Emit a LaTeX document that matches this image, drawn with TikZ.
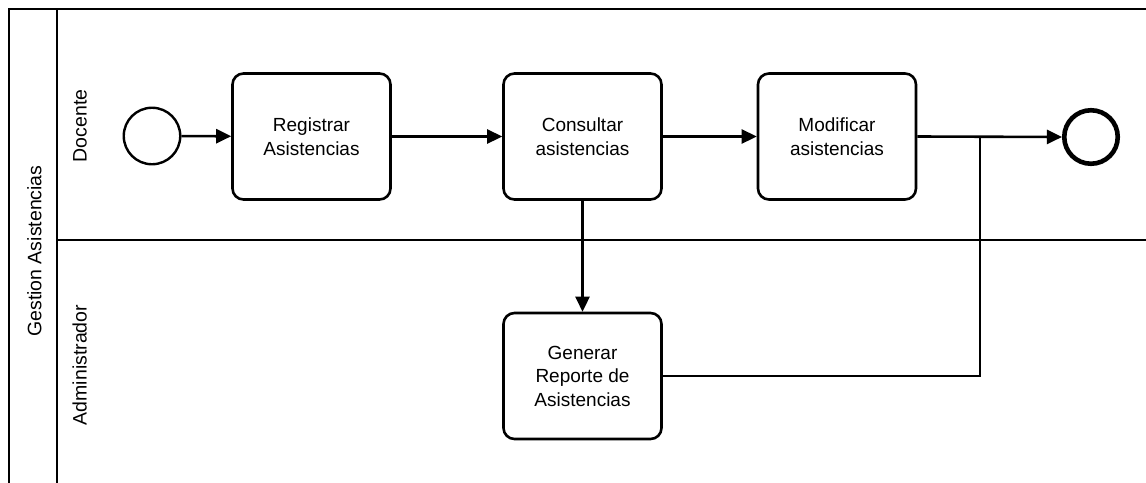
\documentclass[tikz,border=0pt]{standalone}
\usepackage{fontspec}
\setmainfont{Liberation Sans}
\usetikzlibrary{arrows.meta}
\begin{document}
\begin{tikzpicture}[x=1pt,y=-1pt,
  task/.style={draw,line width=2.6pt,rounded corners=11pt,minimum width=158pt,minimum height=126pt,align=center,font=\fontsize{19}{23.5}\selectfont,inner sep=0pt},
  startev/.style={draw,circle,line width=2.4pt,minimum size=56.5pt,inner sep=0pt},
  endev/.style={draw,circle,line width=4.6pt,minimum size=53.5pt,inner sep=0pt},
  flow/.style={line width=2.6pt,-{Triangle[length=15pt,width=14pt]}},
  plain/.style={line width=2.6pt},
  pool/.style={line width=2.6pt},
  lanelabel/.style={rotate=90,anchor=base,font=\fontsize{19.5}{22}\selectfont,inner sep=0pt}]
\useasboundingbox (0,0) rectangle (1146,482);
\begin{scope}
\clip (0,0) rectangle (1146,482);
\draw[pool] (1160,9) -- (9,9) -- (9,500);
\draw[pool] (57,9) -- (57,500);
\draw[pool] (57,240) -- (1160,240);
\end{scope}
\node[lanelabel] (pl) at (41.5,251) {Gestion Asistencias};
\node[lanelabel] (l1) at (86.5,126) {Docente};
\node[lanelabel] (l2) at (86.5,365) {Administrador};
\node[startev] (s) at (152,136) {};
\node[task] (t1) at (311.5,136.5) {Registrar\\Asistencias};
\node[task] (t2) at (582.5,136.5) {Consultar\\asistencias};
\node[task] (t3) at (837,136.5) {Modificar\\asistencias};
\node[endev] (e) at (1091,137) {};
\node[task] (t4) at (582.5,376) {Generar\\Reporte de\\Asistencias};
\coordinate (j) at (980,137);
\draw[flow] (s) -- (t1);
\draw[flow] (t1) -- (t2);
\draw[flow] (t2) -- (t3);
\draw[flow] (t3.east) -- (e.west);
\draw[flow] (t2) -- (t4);
\draw[plain] (t4.east) -- (j |- t4.east) -- (j);
\end{tikzpicture}
\end{document}
